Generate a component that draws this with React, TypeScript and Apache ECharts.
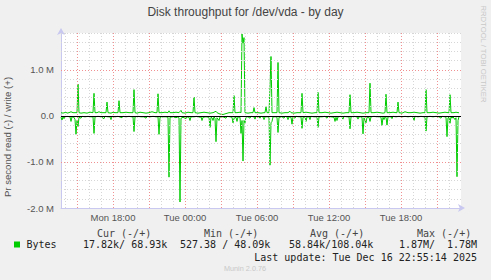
import React, { useEffect, useRef } from 'react';
import * as echarts from 'echarts';

// time in minutes since Mon 00:00
const X_MIN = 820;
const X_MAX = 2820;
const xLabelValues = [1080, 1440, 1800, 2160, 2520];
const xLabels = ['Mon 18:00', 'Tue 00:00', 'Tue 06:00', 'Tue 12:00', 'Tue 18:00'];

const Y_MIN = -2.0e6;
const Y_MAX = 1.8e6;

// write (+), in MB/s
const writeTimes = [
  820, 830, 845, 850, 860, 870, 880, 895, 900, 905, 910, 920, 935, 950, 965, 980, 985, 990,
  1000, 1010, 1020, 1035, 1045, 1050, 1055, 1070, 1080, 1090, 1105, 1110, 1115, 1130, 1145,
  1160, 1180, 1185, 1190, 1200, 1215, 1230, 1245, 1260, 1275, 1290, 1300, 1305, 1310, 1325,
  1340, 1355, 1360, 1365, 1380, 1395, 1410, 1420, 1425, 1440, 1455, 1470, 1480, 1485, 1490,
  1505, 1520, 1535, 1550, 1565, 1580, 1595, 1600, 1615, 1630, 1645, 1660, 1675, 1680, 1685,
  1690, 1700, 1715, 1720, 1725, 1730, 1735, 1740, 1755, 1770, 1780, 1785, 1790, 1805, 1820,
  1835, 1840, 1845, 1850, 1860, 1865, 1870, 1875, 1890, 1900, 1905, 1910, 1925, 1940, 1955,
  1965, 1970, 1985, 2000, 2015, 2020, 2025, 2030, 2045, 2060, 2075, 2090, 2100, 2105, 2110,
  2125, 2140, 2155, 2170, 2185, 2200, 2215, 2230, 2245, 2260, 2265, 2270, 2285, 2300, 2315,
  2330, 2345, 2360, 2365, 2370, 2385, 2400, 2415, 2430, 2440, 2445, 2450, 2465, 2480, 2495,
  2500, 2505, 2510, 2525, 2540, 2555, 2570, 2585, 2600, 2615, 2630, 2640, 2645, 2650, 2665,
  2680, 2695, 2710, 2725, 2740, 2755, 2760, 2765, 2770, 2785, 2795, 2805, 2810,
];
const writeValues = [
  0.07, 0.06, 0.08, 0.06, 0.07, 0.09, 0.07, 0.07, 0.07, 0.69, 0.07, 0.06, 0.07, 0.06, 0.08, 0.07, 0.49, 0.07,
  0.07, 0.09, 0.07, 0.07, 0.07, 0.30, 0.07, 0.06, 0.08, 0.07, 0.07, 0.33, 0.07, 0.07, 0.08,
  0.07, 0.07, 0.57, 0.07, 0.06, 0.08, 0.07, 0.06, 0.07, 0.09, 0.07, 0.07, 0.48, 0.07, 0.07,
  0.08, 0.07, 0.11, 0.07, 0.07, 0.08, 0.07, 0.12, 0.07, 0.06, 0.08, 0.07, 0.07, 0.41, 0.07,
  0.06, 0.07, 0.08, 0.07, 0.06, 0.07, 0.10, 0.07, 0.04, 0.03, 0.05, 0.07, 0.07, 0.07, 0.44,
  0.07, 0.07, 0.08, 0.07, 1.78, 1.58, 1.70, 0.07, 0.06, 0.07, 0.07, 0.18, 0.07, 0.07, 0.06,
  0.07, 0.07, 0.20, 0.07, 0.07, 0.62, 1.29, 0.07, 0.07, 0.07, 1.16, 0.07, 0.06, 0.07, 0.07,
  0.10, 0.07, 0.06, 0.07, 0.07, 0.07, 0.49, 0.07, 0.08, 0.07, 0.06, 0.07, 0.07, 0.51, 0.07,
  0.07, 0.08, 0.07, 0.06, 0.07, 0.08, 0.07, 0.06, 0.07, 0.07, 0.46, 0.07, 0.07, 0.08, 0.07,
  0.06, 0.07, 0.07, 0.71, 0.07, 0.07, 0.08, 0.07, 0.06, 0.07, 0.47, 0.07, 0.07, 0.08, 0.07,
  0.07, 0.30, 0.07, 0.06, 0.09, 0.07, 0.07, 0.08, 0.07, 0.06, 0.07, 0.07, 0.57, 0.07, 0.07,
  0.08, 0.07, 0.06, 0.07, 0.08, 0.07, 0.07, 0.46, 0.07, 0.07, 0.08, 0.07, 0.069,
];

// read (-), in MB/s (drawn below zero)
const readTimes = [
  820, 825, 830, 835, 840, 850, 865, 870, 875, 885, 890, 895, 900, 905, 910, 920, 925, 940,
  955, 970, 980, 985, 990, 1005, 1020, 1035, 1040, 1055, 1065, 1070, 1075, 1090, 1105, 1125,
  1130, 1145, 1160, 1175, 1180, 1185, 1190, 1205, 1220, 1235, 1245, 1250, 1265, 1280, 1295,
  1305, 1310, 1315, 1330, 1345, 1355, 1360, 1365, 1380, 1395, 1405, 1410, 1415, 1420, 1430,
  1445, 1450, 1460, 1465, 1470, 1485, 1500, 1515, 1520, 1525, 1530, 1545, 1560, 1565, 1570,
  1575, 1580, 1585, 1590, 1595, 1600, 1610, 1615, 1630, 1645, 1650, 1665, 1675, 1680, 1685,
  1695, 1700, 1705, 1715, 1720, 1725, 1730, 1735, 1740, 1745, 1755, 1765, 1770, 1785, 1790,
  1795, 1810, 1815, 1820, 1830, 1835, 1840, 1855, 1860, 1865, 1870, 1875, 1880, 1895, 1900,
  1905, 1910, 1925, 1935, 1940, 1950, 1955, 1960, 1970, 1975, 1980, 1990, 1995, 2010, 2020,
  2025, 2030, 2040, 2045, 2050, 2060, 2065, 2070, 2085, 2100, 2105, 2110, 2125, 2140, 2150,
  2155, 2170, 2185, 2190, 2195, 2200, 2205, 2220, 2230, 2235, 2250, 2260, 2265, 2270, 2285,
  2300, 2305, 2310, 2320, 2325, 2330, 2335, 2345, 2350, 2360, 2365, 2370, 2385, 2400, 2415,
  2420, 2425, 2430, 2435, 2440, 2445, 2450, 2455, 2470, 2475, 2480, 2495, 2510, 2525, 2540,
  2555, 2570, 2580, 2585, 2590, 2605, 2620, 2635, 2640, 2645, 2650, 2665, 2680, 2695, 2710,
  2720, 2725, 2740, 2745, 2750, 2755, 2760, 2765, 2770, 2775, 2780, 2790, 2795, 2800, 2805,
  2810,
];
const readValues = [
  0.03, 0.09, 0.02, 0.06, 0.02, 0.01, 0.02, 0.12, 0.02, 0.03, 0.08, 0.40, 0.10, 0.23, 0.03, 0.05, 0.01, 0.02,
  0.01, 0.02, 0.02, 0.38, 0.02, 0.01, 0.02, 0.06, 0.01, 0.02, 0.02, 0.08, 0.01, 0.02, 0.01, 0.04,
  0.01, 0.02, 0.01, 0.02, 0.02, 0.34, 0.02, 0.01, 0.02, 0.02, 0.05, 0.01, 0.02, 0.01, 0.02,
  0.02, 0.40, 0.03, 0.02, 0.02, 0.03, 1.33, 0.03, 0.02, 0.04, 0.02, 0.04, 1.87, 0.05, 0.03,
  0.06, 0.02, 0.03, 0.10, 0.02, 0.02, 0.01, 0.03, 0.02, 0.10, 0.03, 0.02, 0.03, 0.25, 0.03,
  0.04, 0.10, 0.02, 0.05, 0.56, 0.04, 0.10, 0.02, 0.02, 0.05, 0.01, 0.02, 0.03, 0.15, 0.05,
  0.03, 0.12, 0.02, 0.03, 0.38, 0.10, 0.98, 0.10, 0.15, 0.02, 0.02, 0.05, 0.01, 0.02, 0.07,
  0.01, 0.02, 0.05, 0.01, 0.02, 0.08, 0.02, 0.02, 0.03, 1.07, 0.15, 0.12, 0.02, 0.02, 0.03,
  0.36, 0.03, 0.02, 0.05, 0.01, 0.02, 0.08, 0.02, 0.03, 0.18, 0.02, 0.05, 0.01, 0.02, 0.02,
  0.27, 0.03, 0.02, 0.12, 0.02, 0.02, 0.08, 0.01, 0.02, 0.02, 0.25, 0.02, 0.02, 0.01, 0.05,
  0.01, 0.02, 0.03, 0.12, 0.03, 0.10, 0.02, 0.01, 0.07, 0.01, 0.02, 0.02, 0.28, 0.02, 0.01,
  0.02, 0.07, 0.02, 0.02, 0.03, 0.39, 0.04, 0.15, 0.03, 0.03, 0.12, 0.02, 0.01, 0.02, 0.02,
  0.03, 0.21, 0.03, 0.08, 0.02, 0.03, 0.20, 0.02, 0.02, 0.06, 0.01, 0.02, 0.01, 0.02, 0.01,
  0.02, 0.01, 0.02, 0.10, 0.01, 0.02, 0.01, 0.02, 0.02, 0.33, 0.02, 0.01, 0.02, 0.01, 0.02,
  0.05, 0.01, 0.02, 0.03, 0.45, 0.04, 0.03, 0.16, 0.02, 0.05, 0.02, 0.08, 0.04, 1.32, 0.10,
  0.018,
];

const legendHeaders = ['Cur (-/+)', 'Min (-/+)', 'Avg (-/+)', 'Max (-/+)'];
const legendName = 'Bytes';
const legendCur = '17.82k/ 68.93k';
const legendMin = '527.38 / 48.09k';
const legendAvg = '58.84k/108.04k';
const legendMaxRead = '1.87M/';
const legendMaxWrite = '1.78M';
const lastUpdate = 'Last update: Tue Dec 16 22:55:14 2025';
const titleText = 'Disk throughput for /dev/vda - by day';
const yAxisTitle = 'Pr second read (-) / write (+)';

const GREEN = '#00cc00';
const MINOR = '#d6d6d6';
const MAJOR = '#f09090';
const AXIS = '#c8c8f0';
const SANS = '"Liberation Sans", Arial, sans-serif';
const MONO = '"DejaVu Sans Mono", monospace';

function txt(text: string, x: number, y: number, size: number, fill: string, family: string, align: string, extra: any = {}) {
  return {
    type: 'text',
    x,
    y,
    silent: true,
    ...extra,
    style: {
      text,
      fill,
      fontSize: size,
      fontFamily: family,
      align,
      textAlign: align,
      verticalAlign: 'middle',
      textVerticalAlign: 'middle',
    },
  };
}

export default function App() {
  const ref = useRef<HTMLDivElement>(null);
  useEffect(() => {
    const chart = echarts.init(ref.current!, null, { renderer: 'svg' });

    const gridLines: any[] = [];
    for (let m = Math.ceil(X_MIN / 60) * 60; m < X_MAX; m += 60) {
      const major = m % 180 === 0;
      gridLines.push({ xAxis: m, lineStyle: { color: major ? MAJOR : MINOR, type: [1, 2], width: 1 } });
    }
    for (let k = -9; k <= 9; k++) {
      if (k === 0) continue;
      const major = k % 5 === 0;
      gridLines.push({ yAxis: k * 2e5, lineStyle: { color: major ? MAJOR : MINOR, type: [1, 2], width: 1 } });
    }

    const option: any = {
      animation: false,
      backgroundColor: '#f0f0f0',
      grid: {
        left: 61,
        top: 33,
        width: 400,
        height: 175,
        show: true,
        backgroundColor: '#ffffff',
        borderWidth: 0,
      },
      xAxis: {
        type: 'value',
        min: X_MIN,
        max: X_MAX,
        axisLine: {
          onZero: false,
          lineStyle: { color: AXIS, width: 1 },
          symbol: ['none', 'arrow'],
          symbolSize: [6, 7],
          symbolOffset: [0, 4],
        },
        axisTick: { show: false },
        splitLine: { show: false },
        axisLabel: {
          customValues: xLabelValues,
          interval: 0,
          hideOverlap: false,
          formatter: (v: number) => {
            const i = xLabelValues.indexOf(v);
            return i >= 0 ? xLabels[i] : '';
          },
          color: '#555',
          fontSize: 9.5,
          fontFamily: SANS,
          margin: 4,
        },
      },
      yAxis: {
        type: 'value',
        min: Y_MIN,
        max: Y_MAX,
        interval: 1e6,
        axisLine: {
          show: true,
          onZero: false,
          lineStyle: { color: AXIS, width: 1 },
          symbol: ['none', 'arrow'],
          symbolSize: [6, 7],
          symbolOffset: [0, 5],
        },
        axisTick: { show: false },
        splitLine: { show: false },
        axisLabel: {
          formatter: (v: number) => {
            if (Math.abs(v % 1e6) > 1) return '';
            if (v === 0) return '0.0';
            return (v / 1e6).toFixed(1) + ' M';
          },
          showMaxLabel: false,
          color: '#555',
          fontSize: 9.5,
          fontFamily: SANS,
          margin: 7,
        },
      },
      series: [
        {
          type: 'line',
          name: 'grid',
          data: [],
          silent: true,
          z: 1,
          markLine: {
            silent: true,
            symbol: ['none', 'none'],
            label: { show: false },
            animation: false,
            data: gridLines,
          },
        },
        {
          type: 'line',
          name: 'read',
          data: readTimes.map((t, i) => [t, -readValues[i] * 1e6]),
          symbol: 'none',
          showSymbol: false,
          lineStyle: { color: GREEN, width: 1 },
          itemStyle: { color: GREEN },
          z: 2,
          silent: true,
        },
        {
          type: 'line',
          name: 'write',
          data: writeTimes.map((t, i) => [t, writeValues[i] * 1e6]),
          symbol: 'none',
          showSymbol: false,
          lineStyle: { color: GREEN, width: 1 },
          itemStyle: { color: GREEN },
          z: 2,
          silent: true,
        },
        {
          type: 'line',
          name: 'zero',
          data: [],
          silent: true,
          z: 3,
          markLine: {
            silent: true,
            symbol: ['none', 'none'],
            label: { show: false },
            animation: false,
            data: [{ yAxis: 0, lineStyle: { color: '#000000', width: 1, type: 'solid' } }],
          },
        },
      ],
      graphic: [
        txt(titleText, 245.5, 11.7, 12, '#444', SANS, 'center'),
        txt(yAxisTitle, 7.5, 137, 9.6, '#555', SANS, 'center', { rotation: Math.PI / 2 }),
        txt('RRDTOOL / TOBI OETIKER', 483.7, 54, 7.7, '#c8c8c8', SANS, 'center', { rotation: -Math.PI / 2 }),
        txt(legendHeaders[0], 97, 233, 10, '#444', MONO, 'left'),
        txt(legendHeaders[1], 204, 233, 10, '#444', MONO, 'left'),
        txt(legendHeaders[2], 310, 233, 10, '#444', MONO, 'left'),
        txt(legendHeaders[3], 417, 233, 10, '#444', MONO, 'left'),
        {
          type: 'rect',
          silent: true,
          shape: { x: 14, y: 241.5, width: 6, height: 6 },
          style: { fill: GREEN },
        },
        txt(legendName, 26.5, 244.5, 10, '#222', MONO, 'left'),
        txt(legendCur, 83, 244.5, 10, '#222', MONO, 'left'),
        txt(legendMin, 180, 244.5, 10, '#222', MONO, 'left'),
        txt(legendAvg, 289, 244.5, 10, '#222', MONO, 'left'),
        txt(legendMaxRead, 399, 244.5, 10, '#222', MONO, 'left'),
        txt(legendMaxWrite, 477, 244.5, 10, '#222', MONO, 'right'),
        txt(lastUpdate, 477, 257, 10, '#222', MONO, 'right'),
        txt('Munin 2.0.76', 245, 268.5, 7.3, '#c8c8c8', SANS, 'center'),
      ],
    };

    chart.setOption(option);
    return () => chart.dispose();
  }, []);

  return (
    <div
      ref={ref}
      style={{ position: 'absolute', left: 0, top: 0, width: 491, height: 280, background: '#f0f0f0' }}
    />
  );
}
